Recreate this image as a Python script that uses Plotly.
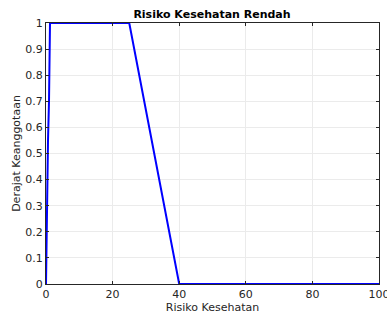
import plotly.graph_objects as go

x_vals = [0, 0.3, 0.6, 0.9, 1.2, 25, 40, 100]
y_vals = [0, 0.37, 0.55, 0.7, 1, 1, 0, 0]
x_ticks = [0, 20, 40, 60, 80, 100]
y_ticks = [0, 0.1, 0.2, 0.3, 0.4, 0.5, 0.6, 0.7, 0.8, 0.9, 1]

fig = go.Figure()
fig.add_trace(go.Scatter(x=x_vals, y=y_vals, mode="lines",
                         line=dict(color="#0000ff", width=2), showlegend=False))

font = dict(family="DejaVu Sans", size=11, color="#262626")
axis_common = dict(showgrid=True, gridcolor="#ebebeb", gridwidth=1,
                   showline=True, linecolor="#262626", linewidth=1, mirror="allticks",
                   ticks="inside", ticklen=3, tickcolor="#262626", zeroline=False,
                   automargin=False, ticklabeloverflow="allow",
                   tickfont=dict(family="DejaVu Sans", size=11, color="#262626"))
W, H = 387, 315
fig.update_layout(
    width=W, height=H,
    margin=dict(l=46, r=8, t=23, b=31, autoexpand=False),
    paper_bgcolor="white", plot_bgcolor="white",
    title=dict(text="<b>Risiko Kesehatan Rendah</b>", x=212 / W, xanchor="center",
               y=1 - 14 / H, yanchor="middle",
               font=dict(family="DejaVu Sans", size=11, color="black")),
    font=font,
)
fig.update_xaxes(range=[0, 100], tickvals=x_ticks, title=dict(text="Risiko Kesehatan", standoff=1,
                 font=dict(family="DejaVu Sans", size=11, color="#262626")), **axis_common)
fig.update_yaxes(range=[0, 1], tickvals=y_ticks, ticktext=[f"{v:g}" for v in y_ticks],
                 title=dict(text="Derajat Keanggotaan", standoff=2,
                 font=dict(family="DejaVu Sans", size=11, color="#262626")), **axis_common)
fig.write_html("out.html", config={"displayModeBar": False},
               post_script="document.body.style.margin='0';document.body.style.overflow='hidden';")
